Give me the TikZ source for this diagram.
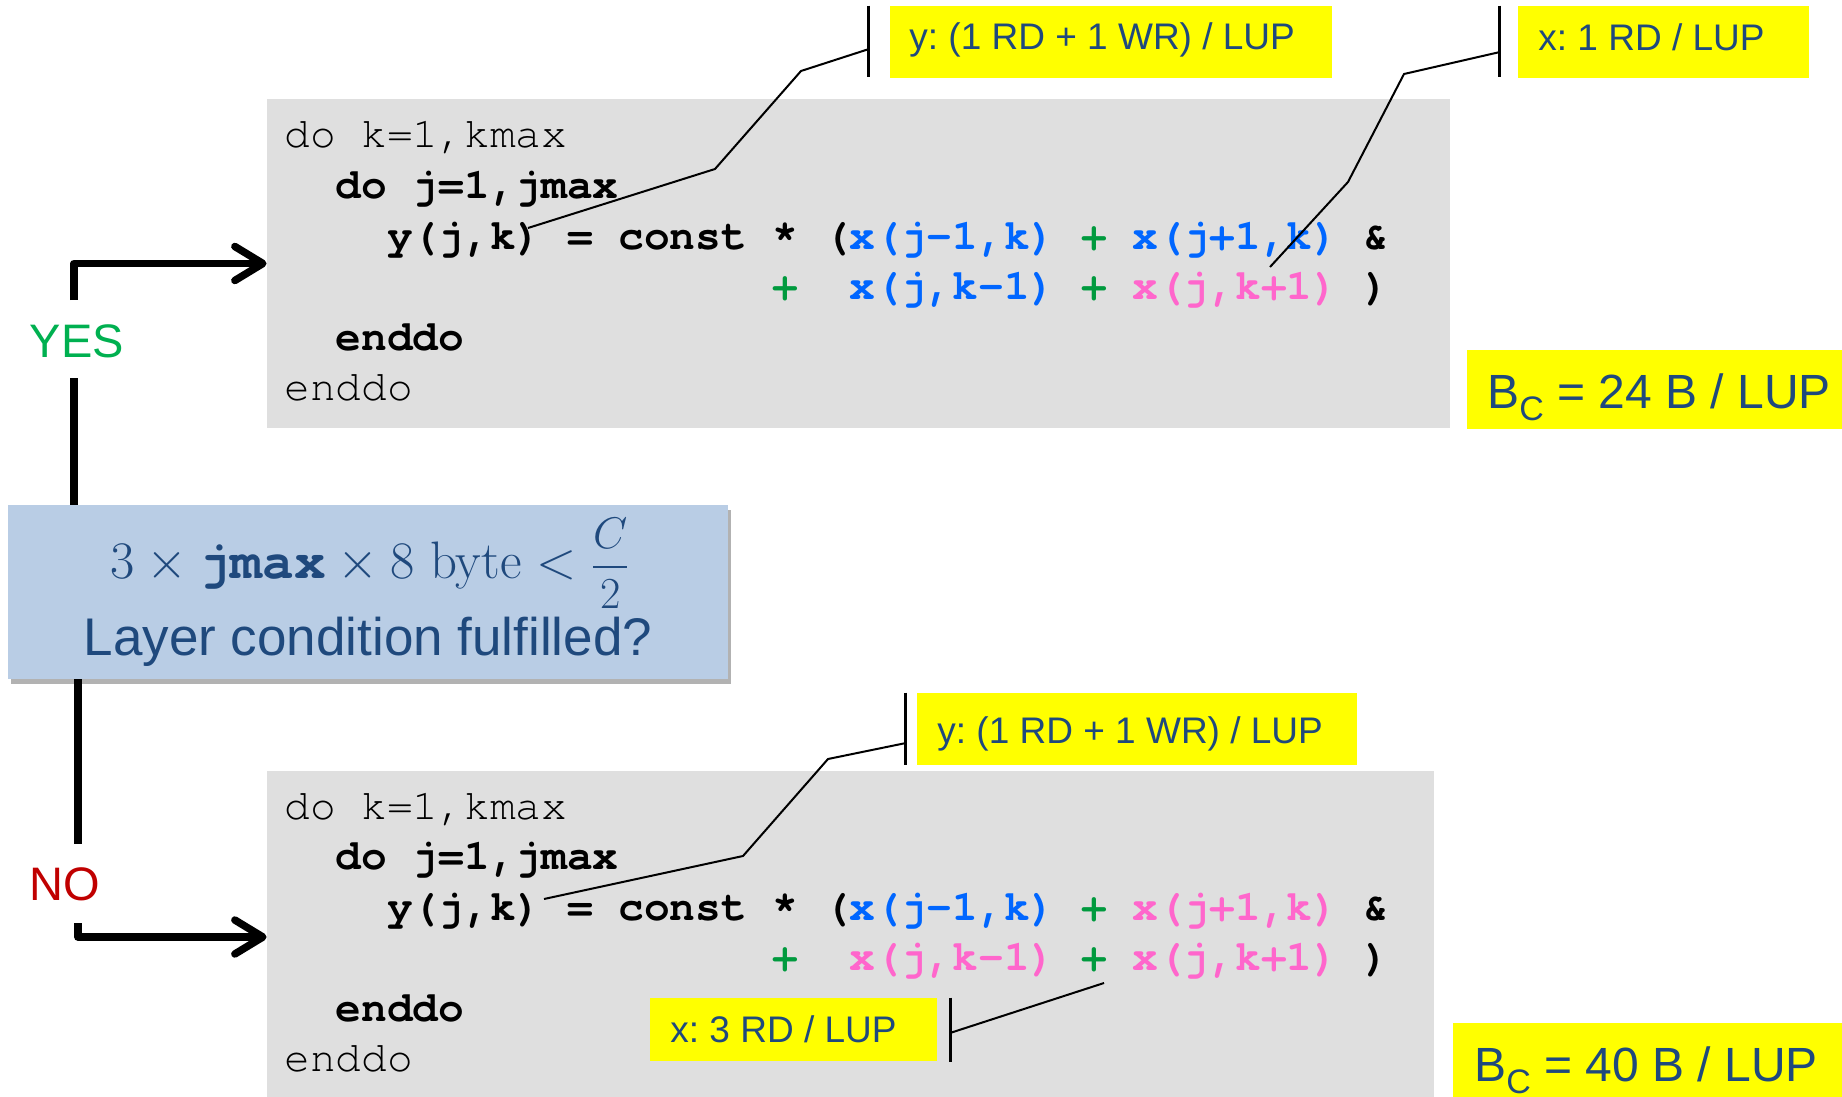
\documentclass[tikz,border=0pt]{standalone}
\usepackage{fontspec}
\usepackage{amsmath}
\usetikzlibrary{arrows.meta,shadows}
\newfontfamily\arialf{Liberation Sans}
\newfontfamily\codef{texgyrecursor}[Extension=.otf, UprightFont=*-regular, BoldFont=*-bold]
\definecolor{codegray}{HTML}{DFDFDF}
\definecolor{condblue}{HTML}{B9CDE5}
\definecolor{txtblue}{HTML}{1F497D}
\definecolor{hiyellow}{HTML}{FFFF00}
\definecolor{xblue}{HTML}{0066FF}
\definecolor{xpink}{HTML}{FF66CC}
\definecolor{opgreen}{HTML}{009A3E}
\definecolor{yesgreen}{HTML}{00B050}
\definecolor{nored}{HTML}{C00000}
\newcommand{\cBlue}[1]{{\color{xblue}#1}}
\newcommand{\cPink}[1]{{\color{xpink}#1}}
\newcommand{\cGreen}[1]{{\color{opgreen}#1}}
\frenchspacing
\tikzset{
  codebox/.style={fill=codegray, draw=none, inner sep=0pt},
  calloutbox/.style={fill=hiyellow, draw=none, inner sep=0pt},
  condbox/.style={fill=condblue, draw=none, inner sep=0pt,
    drop shadow={shadow xshift=1.5pt, shadow yshift=-2.5pt, fill=black, opacity=0.3}},
  codeline/.style={anchor=base west, inner sep=0pt, font=\codef\fontsize{21.42}{25}\selectfont},
  codebold/.style={codeline, font=\codef\bfseries\fontsize{21.42}{25}\selectfont},
  calltext/.style={anchor=base west, inner sep=0pt, text=txtblue, font=\arialf\fontsize{18.5}{22}\selectfont},
  bctext/.style={anchor=base west, inner sep=0pt, text=txtblue, font=\arialf\fontsize{24}{28}\selectfont},
  answer/.style={anchor=base, inner sep=0pt, font=\arialf\fontsize{23.5}{28}\selectfont},
  flow/.style={line width=3.75pt, line join=round, line cap=butt},
  flowarrow/.style={flow, -{Straight Barb[length=14pt,width=17pt,line cap=round,line join=round]}},
  leader/.style={line width=1pt, black, line join=miter},
  calbar/.style={line width=1.2pt, black},
}
\begin{document}
\begin{tikzpicture}[x=0.5pt,y=-0.5pt]
\useasboundingbox (0,0) rectangle (1842,1097);

% ---- code boxes
\node[codebox, minimum width=591.5pt, minimum height=164.5pt] (topbox) at (858.5,263.5) {};
\node[codebox, minimum width=583.5pt, minimum height=163pt] (botbox) at (850.5,934) {};

% ---- top code
\node[codeline] (t1) at (284,148) {do k=1,kmax};
\node[codebold] (t2) at (335.4,198.5) {do j=1,jmax};
\node[codebold] (t3) at (386.8,249) {y(j,k) = const * (\cBlue{x(j-1,k)} \cGreen{+} \cBlue{x(j+1,k)} \&};
\node[codebold] (t4) at (772.3,299.5) {\cGreen{+}~~\cBlue{x(j,k-1)} \cGreen{+} \cPink{x(j,k+1)} )};
\node[codebold] (t5) at (335.4,350) {enddo};
\node[codeline] (t6) at (284,400.5) {enddo};

% ---- bottom code
\node[codeline] (b1) at (284,819) {do k=1,kmax};
\node[codebold] (b2) at (335.4,869.5) {do j=1,jmax};
\node[codebold] (b3) at (386.8,920) {y(j,k) = const * (\cBlue{x(j-1,k)} \cGreen{+} \cPink{x(j+1,k)} \&};
\node[codebold] (b4) at (772.3,970.5) {\cGreen{+}~~\cPink{x(j,k-1)} \cGreen{+} \cPink{x(j,k+1)} )};
\node[codebold] (b5) at (335.4,1021) {enddo};
\node[codeline] (b6) at (284,1071.5) {enddo};

% ---- condition box
\node[condbox, minimum width=360pt, minimum height=87pt] (cond) at (368,592) {};
\node[anchor=base, inner sep=0pt, text=txtblue, font=\fontsize{24.88}{30}\selectfont] (condmath) at (370,578)
  {\scalebox{1.06}{$3\times\text{\codef\bfseries jmax}\times 8\text{ byte}<\scalebox{0.84}{$\dfrac{C}{2}$}$}};
\node[anchor=base, inner sep=0pt, text=txtblue, font=\arialf\fontsize{26.5}{30}\selectfont] (condtxt) at (368,655)
  {Layer condition fulfilled?};

% ---- flow arrows
\node[answer, text=yesgreen] (yes) at (77,357) {YES};
\node[answer, text=nored] (no) at (65,900) {NO};
\coordinate (yesA) at (74,300);
\coordinate (yesB) at (74,378);
\draw[flowarrow] (yesA) |- (topbox.west);
\draw[flow] (yesB) -- (yesB |- cond.north);
\coordinate (noA) at (78,844);
\coordinate (noB) at (78,923);
\draw[flow] (cond.south -| noA) -- (noA);
\draw[flowarrow] (noB) |- ([yshift=-1.5pt]botbox.west);

% ---- callouts top
\node[calloutbox, minimum width=221pt, minimum height=36pt] (cy1) at (1111,42) {};
\node[calltext] (cy1t) at (909,50) {y: (1 RD + 1 WR) / LUP};
\node[calloutbox, minimum width=145.5pt, minimum height=36pt] (cx1) at (1663.5,42) {};
\node[calltext] (cx1t) at (1538,51) {x: 1 RD / LUP};
\node[calloutbox, minimum width=187.5pt, minimum height=39.5pt] (bc1) at (1654.5,389.5) {};
\node[bctext] (bc1t) at (1487,408) {B\raisebox{-6pt}{\fontsize{17}{17}\selectfont C} = 24 B / LUP};

\draw[calbar] ([xshift=-10.5pt]cy1.north west) -- ([xshift=-10.5pt,yshift=0.5pt]cy1.south west);
\coordinate (l1a) at (869,49);
\coordinate (l1b) at (801,71);
\coordinate (l1c) at (715,169);
\coordinate (l1d) at (528,228);
\draw[leader] (l1a) -- (l1b) -- (l1c) -- (l1d);

\draw[calbar] ([xshift=-9pt]cx1.north west) -- ([xshift=-9pt,yshift=0.5pt]cx1.south west);
\coordinate (l2a) at (1500,52);
\coordinate (l2b) at (1404,74);
\coordinate (l2c) at (1348,182);
\coordinate (l2d) at (1270,267);
\draw[leader] (l2a) -- (l2b) -- (l2c) -- (l2d);

% ---- callouts bottom
\node[calloutbox, minimum width=220pt, minimum height=36pt] (cy2) at (1137,729) {};
\node[calltext] (cy2t) at (937,743) {y: (1 RD + 1 WR) / LUP};
\node[calloutbox, minimum width=143.5pt, minimum height=31.5pt] (cx2) at (793.5,1029.5) {};
\node[calltext] (cx2t) at (670,1042) {x: 3 RD / LUP};
\node[calloutbox, minimum width=194.5pt, minimum height=37pt] (bc2) at (1647.5,1060) {};
\node[bctext] (bc2t) at (1474,1081) {B\raisebox{-6pt}{\fontsize{17}{17}\selectfont C} = 40 B / LUP};

\draw[calbar] ([xshift=-5.5pt]cy2.north west) -- ([xshift=-5.5pt]cy2.south west);
\coordinate (l3a) at (906,743);
\coordinate (l3b) at (828,759);
\coordinate (l3c) at (743,856);
\coordinate (l3d) at (544,899);
\draw[leader] (l3a) -- (l3b) -- (l3c) -- (l3d);

\draw[calbar] ([xshift=6.5pt]cx2.north east) -- ([xshift=6.5pt,yshift=-0.5pt]cx2.south east);
\coordinate (l4a) at (950,1033);
\coordinate (l4b) at (1104,983);
\draw[leader] (l4a) -- (l4b);
\end{tikzpicture}
\end{document}
